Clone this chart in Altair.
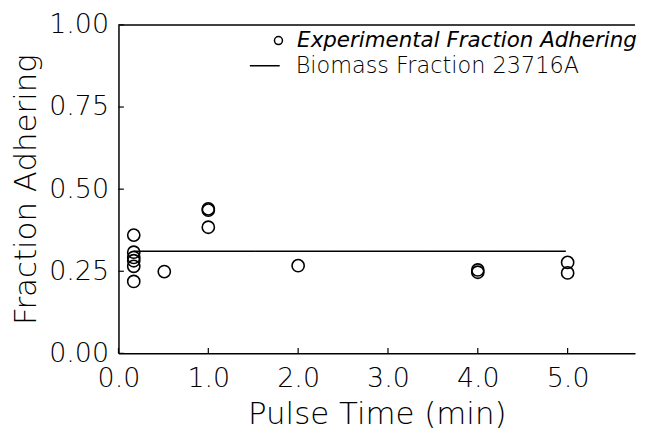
import altair as alt
import pandas as pd

# Experimental points
pt_x = [0.17, 0.17, 0.17, 0.17, 0.17, 0.17, 0.51, 1.0, 1.0, 1.0, 2.0, 4.0, 4.0, 5.0, 5.0]
pt_y = [0.360, 0.308, 0.292, 0.282, 0.265, 0.219, 0.249, 0.440, 0.436, 0.384, 0.267, 0.254, 0.247, 0.277, 0.245]

# Biomass fraction line
ln_x = [0.17, 4.98]
ln_y = [0.311, 0.311]

x_ticks = [0, 1, 2, 3, 4, 5]
y_ticks = [0.0, 0.25, 0.5, 0.75, 1.0]

S1 = "Experimental Fraction Adhering"
S2 = "Biomass Fraction 23716A"

pts = pd.DataFrame({"x": pt_x, "y": pt_y, "s": S1})
lns = pd.DataFrame({"x": ln_x, "y": ln_y, "s": S2})

FONT = "DejaVu Sans"
W = 200
xs = alt.Scale(domain=[0, 5.75], nice=False, zero=False)
ys = alt.Scale(domain=[0, 1], nice=False)

xax = alt.Axis(values=x_ticks, format=".1f", title="Pulse Time (min)", grid=False, labelFlush=False,
               tickSize=0, labelPadding=12, titlePadding=8, domainWidth=1.5)
yax = alt.Axis(values=y_ticks, format=".2f", title="Fraction Adhering", grid=False, labelFlush=False,
               tickSize=0, labelPadding=10, titlePadding=6, domainWidth=1.5)

points = alt.Chart(pts).mark_point(shape="circle", size=150, strokeWidth=1.6, color="black", filled=False, opacity=1).encode(
    x=alt.X("x:Q", scale=xs, axis=xax),
    y=alt.Y("y:Q", scale=ys, axis=yax),
    shape=alt.Shape("s:N", scale=alt.Scale(domain=[S1], range=["circle"]),
                    legend=alt.Legend(title=None, orient="none", legendX=150, legendY=5,
                                      symbolSize=64, symbolStrokeWidth=1.5, symbolStrokeColor="black",
                                      labelFont=FONT, labelFontSize=21.5, labelFontStyle="italic",
                                      labelFontWeight=W, labelLimit=0,
                                      labelColor="black", labelOffset=8, padding=0)),
)

line = alt.Chart(lns).mark_line(color="black", strokeWidth=1.5).encode(
    x="x:Q",
    y="y:Q",
    strokeDash=alt.StrokeDash("s:N", scale=alt.Scale(domain=[S2], range=[[1, 0]]),
                              legend=alt.Legend(title=None, orient="none", legendX=131, legendY=25,
                                                symbolSize=900, symbolStrokeWidth=1.5, symbolStrokeColor="black",
                                                labelFont=FONT, labelFontSize=22.5, labelFontWeight=W, labelLimit=0,
                                                labelColor="black", labelOffset=15, padding=0)),
)

top = alt.Chart(pd.DataFrame({"y": [1.0]})).mark_rule(color="black", strokeWidth=1.5).encode(y="y:Q")

# inward ticks
xt = alt.Chart(pd.DataFrame({"x": x_ticks})).mark_rule(color="black", strokeWidth=1.2).encode(
    x="x:Q", y=alt.datum(0.0), y2=alt.datum(0.016))
yt = alt.Chart(pd.DataFrame({"y": y_ticks})).mark_rule(color="black", strokeWidth=1.2).encode(
    y="y:Q", x=alt.datum(0.0), x2=alt.datum(0.06))

chart = alt.layer(points, line, top, xt, yt).resolve_legend(shape="independent", strokeDash="independent").properties(
    width=519, height=330, padding={"left": 2, "top": 2, "right": 0, "bottom": 0}
).configure_axis(
    labelFont=FONT, titleFont=FONT, labelFontSize=27, titleFontSize=31,
    labelColor="black", titleColor="black", domainColor="black",
    labelFontWeight=W, titleFontWeight=W
).configure_view(stroke=None)

chart.save("out.html", embed_options={"renderer": "svg", "actions": False})
